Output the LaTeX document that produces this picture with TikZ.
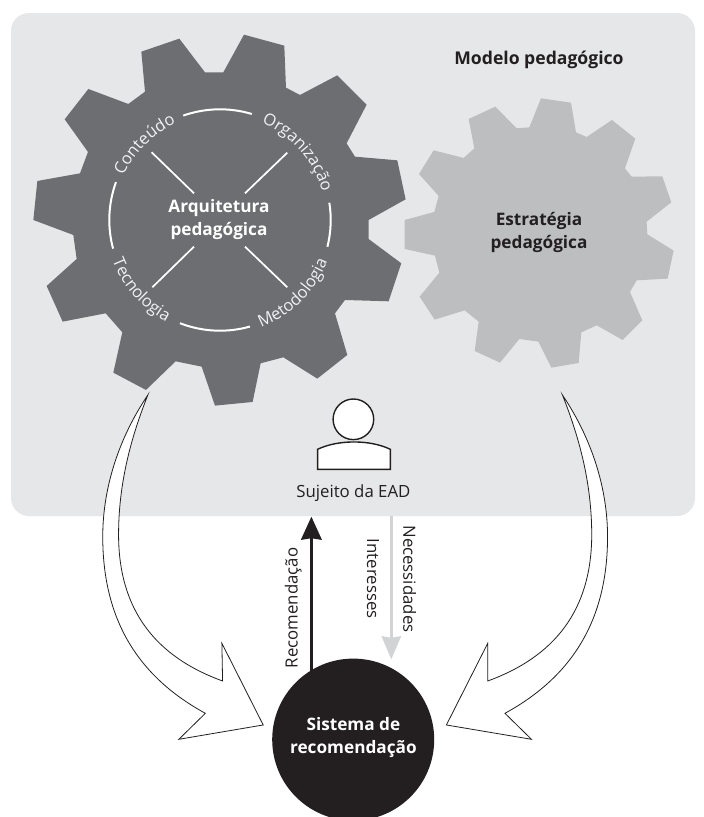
\documentclass[tikz,border=0pt]{standalone}
\usepackage{fontspec}
\setmainfont{Open Sans}
\usetikzlibrary{arrows.meta,decorations.text}
\definecolor{panel}{HTML}{E6E7E8}
\definecolor{geardark}{HTML}{6D6E71}
\definecolor{gearlight}{HTML}{BCBEC0}
\definecolor{inkblack}{HTML}{231F20}
\definecolor{arrowgray}{HTML}{D1D3D4}
\definecolor{softwhite}{HTML}{F1F2F2}
\tikzset{
  titletext/.style={font=\bfseries\fontsize{17.2}{23}\selectfont,align=center,inner sep=0pt},
  plaintext/.style={font=\fontsize{16.8}{20}\selectfont,text=inkblack,inner sep=0pt},
  spoke/.style={draw=white,line width=1.7pt},
  ring/.style={draw=white,line width=2pt},
  bigarrow/.style={draw=inkblack,fill=white,line width=0.8pt,line join=miter},
  person/.style={draw=inkblack,fill=white,line width=1.4pt},
  ringtext/.style={decorate,decoration={text along path,text align=center,
     text={|\fontsize{16.5}{17}\selectfont\color{softwhite}|#1}}},
}
\begin{document}
\begin{tikzpicture}[x=1pt,y=-1pt]
\useasboundingbox (0,0) rectangle (704,817);
\fill[white] (0,0) rectangle (704,817);
\fill[panel,rounded corners=18pt] (11,13) rectangle (695,516);
% big gear
\begin{scope}[shift={(20,20)},x=0.3333pt,y=-0.3333pt]
\fill[geardark] (555,157)--(610,157)--(672,44)--(793,77)--(798,203)--(840,225)--(952,166)--(1040,254)--(980,370)--(1005,410)--(1132,421)--(1157,538)--(1046,600)--(1046,657)--(1144,730)--(1106,844)--(975,840)--(945,880)--(982,1005)--(892,1076)--(790,1012)--(722,1030)--(698,1146)--(585,1157)--(545,1040)--(467,1024)--(378,1110)--(280,1058)--(307,937)--(257,880)--(128,905)--(80,798)--(170,717)--(160,645)--(40,600)--(52,483)--(180,460)--(204,396)--(134,298)--(205,207)--(325,252)--(375,215)--(364,95)--(478,56)--cycle;
\draw[spoke] (395,397)--(522,520);
\draw[spoke] (802,398)--(675,520);
\draw[spoke] (522,680)--(397,802);
\draw[spoke] (675,680)--(802,802);
\end{scope}
% small gear
\begin{scope}[shift={(390,80)},x=0.3333pt,y=-0.3333pt]
\fill[gearlight] (380,145)--(418,142)--(453,55)--(543,68)--(558,157)--(590,171)--(666,120)--(736,176)--(705,265)--(725,290)--(817,289)--(844,367)--(770,425)--(772,463)--(851,512)--(833,596)--(740,601)--(720,636)--(757,721)--(698,780)--(620,736)--(574,757)--(566,849)--(484,863)--(445,785)--(388,777)--(330,848)--(254,813)--(266,725)--(224,691)--(134,719)--(89,650)--(148,578)--(135,527)--(44,507)--(44,420)--(133,396)--(146,348)--(87,282)--(131,211)--(221,234)--(253,205)--(236,117)--(316,80)--cycle;
\end{scope}
% ring
\begin{scope}[shift={(220,220)},x=1pt,y=1pt]
\draw[ring] (109.4:110.7) arc[start angle=109.4,end angle=73.3,radius=110.7];
\draw[ring] (248.8:110.7) arc[start angle=248.8,end angle=285.7,radius=110.7];
\draw[ring] (160:110.7) arc[start angle=160,end angle=195,radius=110.7];
\draw[ring] (9:110.7) arc[start angle=9,end angle=-14,radius=110.7];
\path[ringtext=Conteúdo] (175:106) arc[start angle=175,end angle=95,radius=106];
\path[ringtext=Organização] (81:106) arc[start angle=81,end angle=1,radius=106];
\path[ringtext=Tecnologia] (180:115) arc[start angle=180,end angle=263,radius=115];
\path[ringtext=Metodologia] (275:115) arc[start angle=275,end angle=355,radius=115];
\end{scope}
\node[titletext,text=white] (arq) at (219,220) {Arquitetura\\pedagógica};
\node[titletext,text=inkblack] (est) at (539,232) {Estratégia\\pedagógica};
\node[titletext,text=inkblack,font=\bfseries\fontsize{17.6}{23}\selectfont] (mod) at (539,60) {Modelo pedagógico};
% person
\node[person,circle,minimum size=40.6pt,inner sep=0pt] (head) at (353.4,419.3) {};
\draw[person] (317.6,469.3)--(317.6,449.3) .. controls (338,439.5) and (370,439.5) .. (390.3,449.3)--(390.3,469.3)--cycle;
\node[plaintext] (suj) at (353.4,493) {Sujeito da EAD};
% straight arrows
\coordinate (recstart) at (311.4,672);
\coordinate (rectip) at (311.4,516.7);
\coordinate (necstart) at (391.3,516);
\coordinate (nectip) at (391.3,659.3);
\draw[inkblack,line width=2.6pt,-{Stealth[length=23pt,width=20.6pt,inset=1.5pt]}] (recstart)--(rectip);
\draw[arrowgray,line width=2.6pt,-{Stealth[length=23pt,width=19.3pt,inset=1.5pt]}] (necstart)--(nectip);
% system circle
\node[circle,fill=inkblack,minimum size=162pt,inner sep=0pt] (sis) at (353.2,739.6) {};
\node[titletext,text=white] (sistxt) at (353.4,738) {Sistema de\\recomendação};
% labels
\node[plaintext,rotate=90] (rec) at (293.2,608) {Recomendação};
\node[plaintext,rotate=-90] (int) at (373,578.7) {Interesses};
\node[plaintext,rotate=-90] (nec) at (409.6,579) {Necessidades};
% curved arrows
\begin{scope}[shift={(90,380)},x=0.34435pt,y=-0.3333pt]
\draw[bigarrow] (168,45) .. controls (80,180) and (37,330) .. (37,470) .. controls (37,720) and (140,890) .. (335,1000) -- (258,1078) -- (503,1035) -- (383,790) -- (385,903) .. controls (190,830) and (85,690) .. (83,470) .. controls (82,310) and (120,170) .. (168,45) -- cycle;
\draw[bigarrow] (1372,45) .. controls (1460,180) and (1503,330) .. (1503,470) .. controls (1503,720) and (1400,890) .. (1205,1000) -- (1282,1078) -- (1035,1035) -- (1155,790) -- (1155,903) .. controls (1350,830) and (1455,690) .. (1457,470) .. controls (1458,310) and (1420,170) .. (1372,45) -- cycle;
\end{scope}
\end{tikzpicture}
\end{document}
